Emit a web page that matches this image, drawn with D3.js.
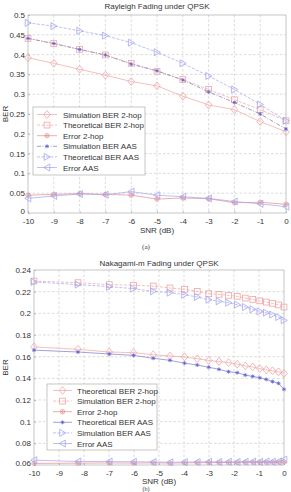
<!DOCTYPE html>
<html><head><meta charset="utf-8">
<script src="https://cdn.jsdelivr.net/npm/d3@7"></script>
<style>
html,body{margin:0;padding:0;background:#fff;}
svg{display:block;font-family:"Liberation Sans",Arial,sans-serif;}
</style></head><body>
<svg id="c" width="291" height="492"></svg>
<script>
// ---------- data: panel (a) Rayleigh ----------
const snrA = [-10,-9,-8,-7,-6,-5,-4,-3,-2,-1,0];
const simBer2hopA  = [0.392,0.378,0.363,0.348,0.332,0.321,0.295,0.273,0.261,0.231,0.205];
const theoBer2hopA = [0.441,0.428,0.413,0.399,0.378,0.358,0.337,0.312,0.286,0.261,0.233];
const err2hopA     = [0.045,0.047,0.049,0.047,0.045,0.035,0.038,0.036,0.026,0.027,0.022];
const simBerAasA   = [0.441,0.428,0.413,0.399,0.376,0.359,0.336,0.306,0.279,0.250,0.212];
const theoBerAasA  = [0.480,0.472,0.460,0.448,0.430,0.406,0.378,0.346,0.312,0.274,0.233];
const errAasA      = [0.037,0.043,0.048,0.046,0.054,0.045,0.041,0.037,0.029,0.023,0.016];
const yTicksA = [0,0.05,0.1,0.15,0.2,0.25,0.3,0.35,0.4,0.45,0.5];
const yTickLabelsA = ["0","0.05","0.1","0.15","0.2","0.25","0.3","0.35","0.4","0.45","0.5"];
const xTicks = [-10,-9,-8,-7,-6,-5,-4,-3,-2,-1,0];
const xTickLabels = ["-10","-9","-8","-7","-6","-5","-4","-3","-2","-1","0"];
const legendA = ["Simulation BER 2-hop","Theoretical BER 2-hop","Error 2-hop","Simulation BER AAS","Theoretical BER AAS","Error AAS"];

// ---------- data: panel (b) Nakagami-m ----------
const snrB = [-10,-8.24,-6.99,-6.02,-5.23,-4.56,-3.98,-3.47,-3.01,-2.6,-2.22,-1.87,-1.55,-1.25,-0.97,-0.71,-0.46,-0.22,0];
const theoBer2hopB = [0.169,0.1668,0.1643,0.1637,0.1618,0.1606,0.1597,0.1581,0.1565,0.1555,0.1545,0.153,0.1515,0.1505,0.149,0.1478,0.147,0.146,0.1445];
const simBer2hopB  = [0.2298,0.2283,0.2265,0.2259,0.2252,0.2234,0.2222,0.2203,0.2181,0.2175,0.2166,0.2157,0.2141,0.2129,0.2115,0.2104,0.2092,0.2078,0.2058];
const err2hopB     = [0.0615,0.0617,0.0619,0.0618,0.062,0.0618,0.062,0.0621,0.0622,0.0623,0.0623,0.0624,0.0624,0.0625,0.0624,0.0625,0.0626,0.0626,0.0628];
const theoBerAasB  = [0.166,0.1643,0.1625,0.1612,0.1585,0.1566,0.154,0.1523,0.1502,0.1483,0.1461,0.1452,0.143,0.1418,0.1405,0.139,0.137,0.1354,0.1299];
const simBerAasB   = [0.229,0.2265,0.2246,0.2228,0.2203,0.2191,0.2172,0.2151,0.2125,0.2111,0.2098,0.208,0.2058,0.2037,0.2018,0.2006,0.1988,0.1966,0.1936];
const errAasB      = [0.0645,0.0632,0.0632,0.063,0.0628,0.0625,0.0627,0.0628,0.063,0.0628,0.063,0.0628,0.063,0.0632,0.063,0.0632,0.063,0.0632,0.065];
const yTicksB = [0.06,0.08,0.1,0.12,0.14,0.16,0.18,0.2,0.22,0.24];
const yTickLabelsB = ["0.06","0.08","0.1","0.12","0.14","0.16","0.18","0.2","0.22","0.24"];
const legendB = ["Theoretical BER 2-hop","Simulation BER 2-hop","Error 2-hop","Theoretical BER AAS","Simulation BER AAS","Error AAS"];

const RED = "#f0a4a4", RED2 = "#e48a8a", BLUE = "#a4a4f0", BLUE2 = "#6464d4";
const GRID = "#cdcdcd", AX = "#a0a0a0", TXT = "#333";

const svg = d3.select("#c");

function marker(g, type, x, y, color) {
  const s = 3.3;
  if (type === "diamond") {
    g.append("path").attr("d",`M${x},${y-s-0.6}L${x+s},${y}L${x},${y+s+0.6}L${x-s},${y}Z`)
      .attr("fill","none").attr("stroke",color).attr("stroke-width",0.8);
  } else if (type === "square") {
    g.append("rect").attr("x",x-2.9).attr("y",y-2.9).attr("width",5.8).attr("height",5.8)
      .attr("fill","none").attr("stroke",color).attr("stroke-width",0.8);
  } else if (type === "tright") {
    g.append("path").attr("d",`M${x-2.8},${y-3.5}L${x+3.3},${y}L${x-2.8},${y+3.5}Z`)
      .attr("fill","none").attr("stroke",color).attr("stroke-width",0.8);
  } else if (type === "tleft") {
    g.append("path").attr("d",`M${x+2.8},${y-3.5}L${x-3.3},${y}L${x+2.8},${y+3.5}Z`)
      .attr("fill","none").attr("stroke",color).attr("stroke-width",0.8);
  } else if (type === "star") {
    const r = 2;
    g.append("path").attr("d",`M${x-r},${y}L${x+r},${y}M${x},${y-r}L${x},${y+r}M${x-1.4},${y-1.4}L${x+1.4},${y+1.4}M${x-1.4},${y+1.4}L${x+1.4},${y-1.4}`)
      .attr("stroke",color).attr("stroke-width",0.8);
  } else if (type === "cstar") {
    g.append("circle").attr("cx",x).attr("cy",y).attr("r",2.2)
      .attr("fill","none").attr("stroke",color).attr("stroke-width",0.7);
    const r = 1.6;
    g.append("path").attr("d",`M${x-r},${y}L${x+r},${y}M${x},${y-r}L${x},${y+r}`)
      .attr("stroke",color).attr("stroke-width",0.6);
  }
}

function panel(cfg) {
  const x = d3.scaleLinear().domain([-10,0]).range([cfg.left,cfg.right]);
  const y = d3.scaleLinear().domain(cfg.ydom).range([cfg.bottom,cfg.top]);
  const g = svg.append("g");

  // grid
  g.append("g").selectAll("line").data(xTicks.slice(1,-1)).join("line")
    .attr("x1",d=>x(d)).attr("x2",d=>x(d)).attr("y1",cfg.top).attr("y2",cfg.bottom)
    .attr("stroke",GRID).attr("stroke-width",0.7).attr("stroke-dasharray","2.5,2");
  g.append("g").selectAll("line").data(cfg.yticks.slice(1,-1)).join("line")
    .attr("x1",cfg.left).attr("x2",cfg.right).attr("y1",d=>y(d)).attr("y2",d=>y(d))
    .attr("stroke",GRID).attr("stroke-width",0.7).attr("stroke-dasharray","2.5,2");

  // axes
  const xa = d3.axisBottom(x).tickValues(xTicks).tickFormat((d,i)=>xTickLabels[i]).tickSize(-2).tickPadding(5);
  const ya = d3.axisLeft(y).tickValues(cfg.yticks).tickFormat((d,i)=>cfg.ylabels[i]).tickSize(-2).tickPadding(3);
  const gx = g.append("g").attr("transform",`translate(0,${cfg.bottom})`).call(xa);
  const gy = g.append("g").attr("transform",`translate(${cfg.left},0)`).call(ya);
  [gx,gy].forEach(a=>{
    a.select(".domain").remove();
    a.selectAll("line").attr("stroke",AX).attr("stroke-width",0.6);
    a.selectAll("text").attr("fill",TXT).style("font-size","8px").style("font-family","Liberation Sans, Arial, sans-serif");
  });
  // lift the lowest y label slightly so it clears the first x label
  gy.selectAll(".tick text").filter((d,i)=>i===0).attr("dy","0.1em");
  g.append("rect").attr("x",cfg.left).attr("y",cfg.top).attr("width",cfg.right-cfg.left).attr("height",cfg.bottom-cfg.top)
    .attr("fill","none").attr("stroke",AX).attr("stroke-width",0.6);

  // series
  cfg.series.forEach(s=>{
    const line = d3.line().x((d,i)=>x(cfg.snr[i])).y(d=>y(d));
    g.append("path").datum(s.values).attr("d",line).attr("fill","none")
      .attr("stroke",s.lineColor||s.color).attr("stroke-width",0.7)
      .attr("stroke-dasharray",s.dash||null);
    const mg = g.append("g");
    s.values.forEach((v,i)=>marker(mg,s.marker,x(cfg.snr[i]),y(v),s.color));
  });

  // titles
  svg.append("text").attr("x",(cfg.left+cfg.right)/2).attr("y",cfg.titleY).attr("text-anchor","middle")
    .attr("fill",TXT).style("font-size","8px").text(cfg.title);
  svg.append("text").attr("x",(cfg.left+cfg.right)/2).attr("y",cfg.xlabY).attr("text-anchor","middle")
    .attr("fill",TXT).style("font-size","8px").text("SNR (dB)");
  svg.append("text").attr("transform",`translate(${cfg.ylabX},${(cfg.top+cfg.bottom)/2}) rotate(-90)`)
    .attr("text-anchor","middle").attr("fill",TXT).style("font-size","8px").text("BER");

  // legend
  const L = cfg.legend;
  const lg = svg.append("g");
  lg.append("rect").attr("x",L.x).attr("y",L.y).attr("width",L.w).attr("height",L.h)
    .attr("fill","#fff").attr("stroke",AX).attr("stroke-width",0.6);
  cfg.series.forEach((s,i)=>{
    const cy = L.y + L.row0 + i*L.dy;
    lg.append("line").attr("x1",L.x+L.l1).attr("x2",L.x+L.l2).attr("y1",cy).attr("y2",cy)
      .attr("stroke",s.lineColor||s.color).attr("stroke-width",0.7).attr("stroke-dasharray",s.dash||null);
    marker(lg,s.marker,L.x+(L.l1+L.l2)/2,cy,s.color);
    lg.append("text").attr("x",L.x+L.tx).attr("y",cy+3).attr("fill",TXT).style("font-size","8px").text(cfg.names[i]);
  });
}

panel({
  left:28,right:286,top:15,bottom:213,ydom:[0,0.5],
  yticks:yTicksA,ylabels:yTickLabelsA,snr:snrA,
  title:"Rayleigh Fading under QPSK",titleY:9,xlabY:233,ylabX:8,
  names:legendA,
  legend:{x:33,y:107,w:112,h:68,row0:7.5,dy:10.6,l1:4,l2:24,tx:30},
  series:[
    {values:simBer2hopA,marker:"diamond",color:RED},
    {values:theoBer2hopA,marker:"square",color:RED,dash:"3,1.5"},
    {values:err2hopA,marker:"cstar",color:RED2},
    {values:simBerAasA,marker:"star",color:BLUE2,lineColor:"#7878aa",dash:"4,1.5,1,1.5"},
    {values:theoBerAasA,marker:"tright",color:BLUE,dash:"3,1.5"},
    {values:errAasA,marker:"tleft",color:BLUE}
  ]
});

panel({
  left:34,right:284,top:270,bottom:465,ydom:[0.06,0.24],
  yticks:yTicksB,ylabels:yTickLabelsB,snr:snrB,
  title:"Nakagami-m Fading under QPSK",titleY:266,xlabY:484,ylabX:8,
  names:legendB,
  legend:{x:47,y:384,w:110,h:66,row0:6.5,dy:10.6,l1:6,l2:25,tx:30},
  series:[
    {values:theoBer2hopB,marker:"diamond",color:RED},
    {values:simBer2hopB,marker:"square",color:RED,dash:"3,1.5"},
    {values:err2hopB,marker:"cstar",color:RED2},
    {values:theoBerAasB,marker:"star",color:BLUE2,lineColor:"#7878cc"},
    {values:simBerAasB,marker:"tright",color:BLUE,dash:"3,1.5"},
    {values:errAasB,marker:"tleft",color:BLUE}
  ]
});

svg.append("text").attr("x",146).attr("y",249).attr("text-anchor","middle")
  .attr("fill",TXT).style("font-size","7px").style("font-family","Liberation Serif, serif").text("(a)");
svg.append("text").attr("x",146).attr("y",491).attr("text-anchor","middle")
  .attr("fill",TXT).style("font-size","6px").style("font-family","Liberation Serif, serif").text("(b)");
</script>
</body></html>
